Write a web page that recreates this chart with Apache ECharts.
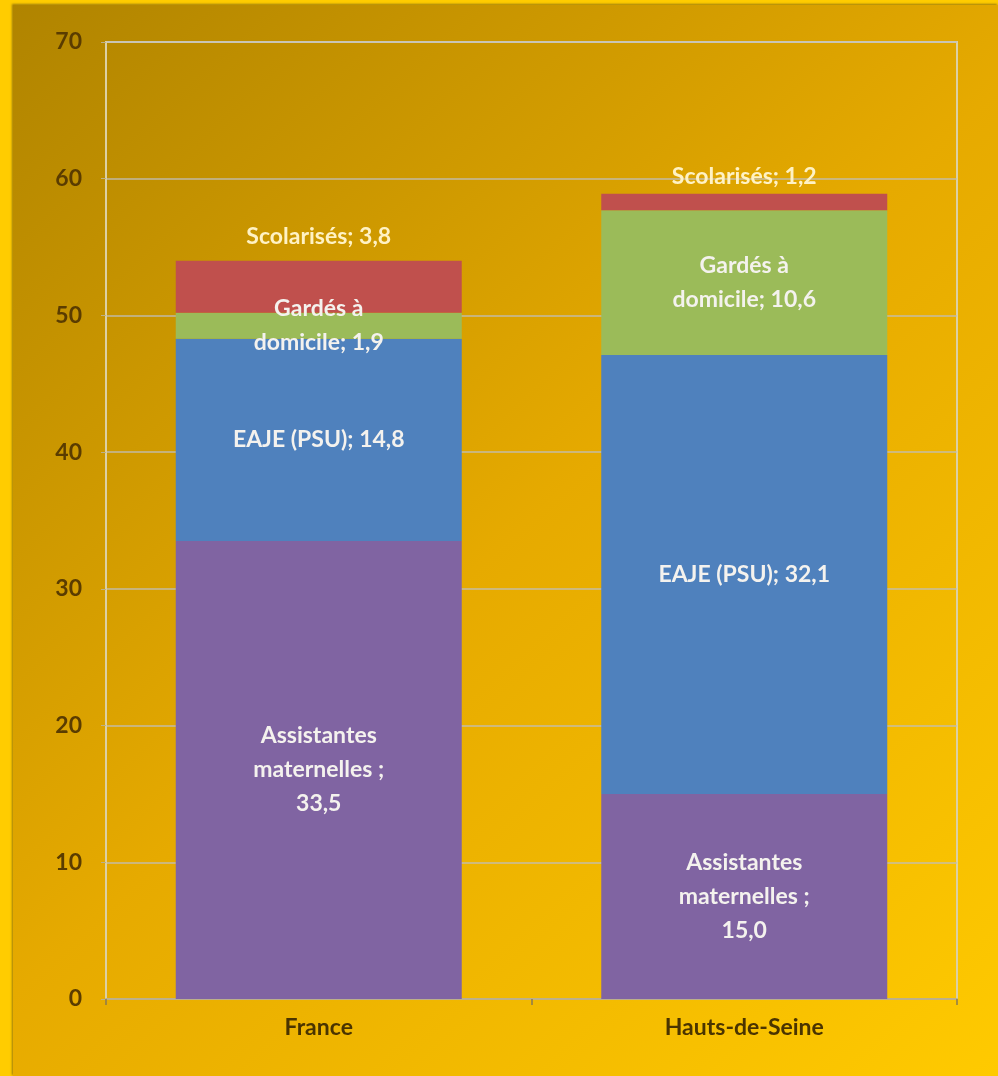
<!DOCTYPE html>
<html>
<head>
<meta charset="utf-8">
<script src="https://cdn.jsdelivr.net/npm/echarts@6/dist/echarts.min.js"></script>
<style>
  html, body { margin: 0; padding: 0; background: #FFCC00; }
  #chart { position: absolute; left: 13px; top: 5px; width: 985px; height: 1071px; box-shadow: -1px -1px 2px rgba(90,70,20,0.6); }
</style>
</head>
<body>
<div id="chart"></div>
<script>
// ---- data ----
var categories = ['France', 'Hauts-de-Seine'];
var seriesNames = ['Assistantes maternelles', 'EAJE (PSU)', 'Gardés à domicile', 'Scolarisés'];
var assistantes = [33.5, 15.0];
var eaje = [14.8, 32.1];
var gardes = [1.9, 10.6];
var scolarises = [3.8, 1.2];
var yMin = 0, yMax = 70, yInterval = 10;

// ---- styling ----
var colors = ['#8064A2', '#4F81BD', '#9BBB59', '#C0504D'];
var labelFont = 'Lato, "Open Sans", sans-serif';
var topLabelDistance = [7, 0];

function fmt(v) { return v.toFixed(1).replace('.', ','); }

var chart = echarts.init(document.getElementById('chart'));

var onBarLabel = {
  show: true,
  position: 'inside',
  color: '#F4F2EE',
  fontFamily: labelFont,
  fontSize: 23,
  fontWeight: 'bold',
  lineHeight: 34,
  align: 'center'
};

var option = {
  backgroundColor: new echarts.graphic.LinearGradient(0, 0, 1, 1, [
    { offset: 0, color: '#B08400' },
    { offset: 0.5, color: '#E6AA00' },
    { offset: 1, color: '#FFCA00' }
  ]),
  animation: false,
  grid: {
    left: 93, right: 41, top: 37, bottom: 77,
    show: true, borderColor: '#DCD0A4', borderWidth: 2, backgroundColor: 'transparent'
  },
  xAxis: {
    type: 'category',
    data: categories,
    axisLine: { lineStyle: { color: '#BDB08A', width: 2 } },
    axisTick: { show: true, length: 6, lineStyle: { color: '#8A7A50', width: 1.5 } },
    axisLabel: { color: '#4A3400', fontFamily: labelFont, fontSize: 23, fontWeight: 'bold', margin: 17 }
  },
  yAxis: {
    type: 'value',
    min: yMin, max: yMax, interval: yInterval,
    axisLine: { show: true, lineStyle: { color: '#DCD0A4', width: 2 } },
    axisTick: { show: true, length: 5, lineStyle: { color: '#BDB08A' } },
    splitLine: { lineStyle: { color: 'rgba(190,190,190,0.65)', width: 2 } },
    axisLabel: { color: '#5A3C00', fontFamily: labelFont, fontSize: 23, fontWeight: 'bold', margin: 24 }
  },
  series: [
    {
      name: seriesNames[0], type: 'bar', stack: 'total', barWidth: 286,
      itemStyle: { color: colors[0] },
      label: Object.assign({}, onBarLabel, { formatter: function (p) { return 'Assistantes\nmaternelles ;\n' + fmt(p.value); } }),
      data: assistantes
    },
    {
      name: seriesNames[1], type: 'bar', stack: 'total', barWidth: 286,
      itemStyle: { color: colors[1] },
      label: Object.assign({}, onBarLabel, { formatter: function (p) { return 'EAJE (PSU); ' + fmt(p.value); } }),
      data: eaje
    },
    {
      name: seriesNames[2], type: 'bar', stack: 'total', barWidth: 286,
      itemStyle: { color: colors[2] },
      label: Object.assign({}, onBarLabel, { formatter: function (p) { return 'Gardés à\ndomicile; ' + fmt(p.value); } }),
      data: gardes
    },
    {
      name: seriesNames[3], type: 'bar', stack: 'total', barWidth: 286,
      itemStyle: { color: colors[3] },
      label: Object.assign({}, onBarLabel, { position: 'top', color: '#FFF2C4', formatter: function (p) { return 'Scolarisés; ' + fmt(p.value); } }),
      data: scolarises.map(function (v, i) {
        return { value: v, label: { distance: topLabelDistance[i] } };
      })
    }
  ]
};
chart.setOption(option);
</script>
</body>
</html>
